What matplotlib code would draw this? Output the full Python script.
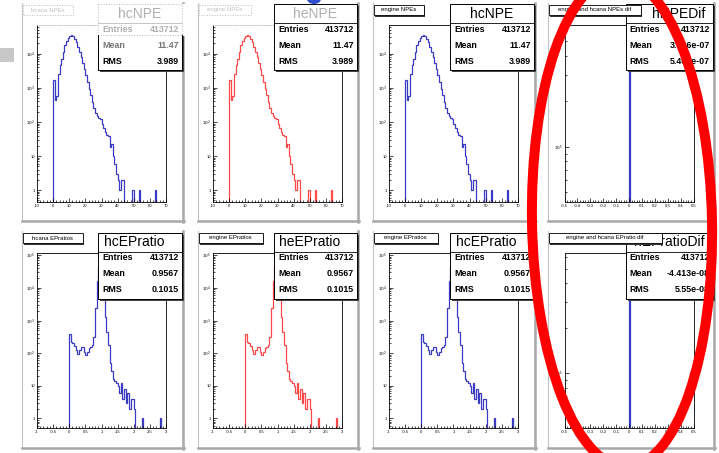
import numpy as np
import matplotlib.pyplot as plt
from matplotlib.patches import Rectangle, Ellipse
from matplotlib.ticker import MultipleLocator, LogLocator, FuncFormatter, NullFormatter

plt.rcParams['font.family'] = ['Liberation Sans', 'DejaVu Sans']

W, H = 719, 453

# NPE histograms, 1 unit bins from -10 to 70
npe_edges = np.arange(-10, 71, 1)
npe_counts = [0] * 10 + [1740, 430, 560, 2600, 4600, 7100, 11000, 17500, 23400, 29300,
                         33000, 34700, 33000, 27500, 21900, 15800, 11200, 7900, 5400, 3650,
                         2350, 1480, 950, 600, 385, 263, 187, 150, 134, 120,
                         89, 68, 51, 41, 40, 19, 23, 10, 6, 3,
                         2, 1, 2, 2] + [0] * 5 + [1] + [0] * 3 + [1] + [0] * 9 + [1] + [0] * 6

# E/P ratio histograms, 0.05 bins from -1 to 3
ep_edges = np.linspace(-1, 3, 81)
ep_counts = [0] * 20 + [380, 224, 200, 166, 126, 95, 126, 151, 158, 105,
                        89, 112, 141, 158, 178, 316, 2500, 16000, 45000, 58000,
                        32000, 5000, 1260, 450, 178, 50, 28, 16, 14, 12,
                        10, 6, 12, 4, 8, 3, 6, 2, 4, 4,
                        2] + [0] * 4 + [1] + [0] * 10 + [1] + [0] * 3

# difference histograms, everything lands in one bin
dif_edges = np.linspace(-0.5, 0.5, 101)
dif_counts = [0] * 50 + [413712] + [0] * 49

npe_stats = [('Entries', '413712'), ('Mean', '11.47'), ('RMS', '3.989')]
npedif_stats = [('Entries', '413712'), ('Mean', '3.966e-07'), ('RMS', '5.407e-07')]
ep_stats = [('Entries', '413712'), ('Mean', '0.9567'), ('RMS', '0.1015')]
epdif_stats = [('Entries', '413712'), ('Mean', '-4.413e-08'), ('RMS', '5.55e-08')]

BLUE = '#3a3ac4'
RED = '#ff4848'

# layout in pixels (from top-left)
ax_left = [37, 213, 389, 564.5]
ax_w = 129
row_ax = [(25, 201.7), (252.7, 427.7)]
canvas_x = [(22, 183), (198, 358), (373, 535), (548, 714)]
canvas_y = [(3, 221), (231, 448)]
stats_y0 = [4, 232.5]
title_y0 = [5, 233]


def frac(x0, y0, x1, y1):
    return [x0 / W, 1 - y1 / H, (x1 - x0) / W, (y1 - y0) / H]


def yfmt(v, pos):
    e = int(round(np.log10(v)))
    if e == 0:
        return '1'
    if e == 1:
        return '10'
    return '$10^{%d}$' % e


def xfmt(v, pos):
    v = round(v, 4)
    if abs(v) < 1e-9:
        return '0'
    return '%g' % v


fig = plt.figure(figsize=(W / 100, H / 100), dpi=100)
fig.patch.set_facecolor('white')

panels = [
    # row, col, edges, counts, color, ylim, xmajor, xminor, title, name, stats
    (0, 0, npe_edges, npe_counts, BLUE, (0.46, 69400), 10, 2, 'hcana NPEs', 'hcNPE', npe_stats),
    (0, 1, npe_edges, npe_counts, RED, (0.46, 69400), 10, 2, 'engine NPEs', 'heNPE', npe_stats),
    (0, 2, npe_edges, npe_counts, BLUE, (0.46, 69400), 10, 2, 'engine NPEs', 'hcNPE', npe_stats),
    (0, 3, dif_edges, dif_counts, BLUE, (43300, 640000), 0.1, 0.02, 'engine and hcana NPEs dif', 'hNPEDif', npedif_stats),
    (1, 0, ep_edges, ep_counts, BLUE, (0.52, 120000), 0.5, 0.1, 'hcana EPratios', 'hcEPratio', ep_stats),
    (1, 1, ep_edges, ep_counts, RED, (0.52, 120000), 0.5, 0.1, 'engine EPratios', 'heEPratio', ep_stats),
    (1, 2, ep_edges, ep_counts, BLUE, (0.52, 120000), 0.5, 0.1, 'engine EPratios', 'hcEPratio', ep_stats),
    (1, 3, dif_edges, dif_counts, BLUE, (43300, 640000), 0.1, 0.02, 'engine and hcana EPratio dif', 'hEPratioDif', epdif_stats),
]
title_w = {(0, 0): 50, (0, 1): 52, (0, 2): 50, (0, 3): 92,
           (1, 0): 60, (1, 1): 64, (1, 2): 64, (1, 3): 113}
# stats titles don't sit exactly centred on the slide
name_dx = {(0, 3): 9, (1, 0): -6, (1, 1): -6, (1, 2): -6}

for row, col, edges, counts, color, ylim, xmaj, xmin, title, name, stats in panels:
    x0 = ax_left[col]
    y0, y1 = row_ax[row]
    ax = fig.add_axes(frac(x0, y0, x0 + ax_w, y1), zorder=1)
    c = np.array(counts, dtype=float)
    c[c <= 0] = 1e-3
    ax.stairs(c, edges, color=color, lw=0.9, baseline=None)
    ax.set_yscale('log')
    ax.set_xlim(edges[0], edges[-1])
    ax.set_ylim(*ylim)
    ax.xaxis.set_major_locator(MultipleLocator(xmaj))
    ax.xaxis.set_minor_locator(MultipleLocator(xmin))
    ax.xaxis.set_major_formatter(FuncFormatter(xfmt))
    ax.yaxis.set_major_locator(LogLocator(base=10))
    ax.yaxis.set_minor_locator(LogLocator(base=10, subs=np.arange(2, 10)))
    ax.yaxis.set_major_formatter(FuncFormatter(yfmt))
    ax.yaxis.set_minor_formatter(NullFormatter())
    ax.tick_params(which='both', direction='in', labelsize=3, pad=1.5, width=0.5)
    ax.tick_params(which='major', length=3)
    ax.tick_params(which='minor', length=1.5)
    for s in ax.spines.values():
        s.set_linewidth(0.6)
    if row == 0 and col < 2:
        ax.spines['top'].set_color('#bbbbbb')
        ax.spines['top'].set_linestyle(':')

# overlay for canvas frames, boxes and the red marker
ov = fig.add_axes([0, 0, 1, 1], zorder=5)
ov.set_xlim(0, W)
ov.set_ylim(H, 0)
ov.axis('off')
ov.patch.set_visible(False)

for cx0, cx1 in canvas_x:
    for cy0, cy1 in canvas_y:
        ov.plot([cx0, cx0], [cy0, cy1], color='#c4c4c4', lw=0.8)
        ov.plot([cx1, cx1], [cy0, cy1 + 1], color='#a8a8a8', lw=1.8)
        ov.plot([cx0, cx1 + 1], [cy1, cy1], color='#a8a8a8', lw=1.8)

for row, col, edges, counts, color, ylim, xmaj, xmin, title, name, stats in panels:
    faded = row == 0 and col < 2

    # stats box
    sx0 = ax_left[col] + 61
    sx1 = canvas_x[col][1] - 1
    sy0 = stats_y0[row]
    sy1 = sy0 + 66
    ov.add_patch(Rectangle((sx0 + 2, sy0 + 2), sx1 - sx0, sy1 - sy0, facecolor='#444444', edgecolor='none', zorder=2))
    ov.add_patch(Rectangle((sx0, sy0), sx1 - sx0, sy1 - sy0, facecolor='white', edgecolor='black', lw=0.7, zorder=2))
    if row == 0 and col == 0:
        # top part of this box is faded on the slide
        ov.add_patch(Rectangle((sx0 - 0.5, sy0 - 0.5), sx1 - sx0 + 3.5, 32, facecolor='white', edgecolor='none', zorder=2))
        ov.add_patch(Rectangle((sx0, sy0), sx1 - sx0, 31, facecolor='none', edgecolor='#bbbbbb', lw=0.7, ls=':', zorder=2))
        ov.plot([sx0, sx0], [sy0 + 31, sy1], color='black', lw=0.7, zorder=2)
        ov.plot([sx1, sx1], [sy0 + 31, sy1], color='black', lw=0.7, zorder=2)
    ov.plot([sx0, sx1], [sy0 + 19, sy0 + 19], color='#bbbbbb' if (row == 0 and col == 0) else 'black',
            lw=0.6, zorder=2)
    ov.text((sx0 + sx1) / 2 + name_dx.get((row, col), 0), sy0 + 10, name, fontsize=10,
            color='#b0b0b0' if faded else 'black', ha='center', va='center', zorder=2)
    for i, (lab, val) in enumerate(stats):
        rc = 'black'
        if row == 0 and col == 0 and i == 0:
            rc = '#b0b0b0'
        elif row == 0 and col == 0 and i == 1:
            rc = '#777777'
        yy = sy0 + 25.5 + 16 * i
        ov.text(sx0 + 4, yy, lab, fontsize=6.4, fontweight='bold', color=rc, ha='left', va='center', zorder=2)
        ov.text(sx1 - 3, yy, val, fontsize=6.4, fontweight='bold', color=rc, ha='right', va='center', zorder=2)

    # title box, drawn over the stats box where they meet
    tx0 = canvas_x[col][0] + 0.5
    tx1 = tx0 + title_w[(row, col)]
    ty0 = title_y0[row]
    if faded:
        ov.add_patch(Rectangle((tx0, ty0), tx1 - tx0, 10, facecolor='white',
                               edgecolor='#bbbbbb', lw=0.7, ls=':', zorder=3))
        tcol = '#c0c0c0'
    else:
        ov.add_patch(Rectangle((tx0 + 1.5, ty0 + 1.5), tx1 - tx0, 10, facecolor='#333333', edgecolor='none', zorder=3))
        ov.add_patch(Rectangle((tx0, ty0), tx1 - tx0, 10, facecolor='white', edgecolor='black', lw=0.6, zorder=3))
        tcol = 'black'
    ov.text((tx0 + tx1) / 2, ty0 + 5, title, fontsize=4.3, color=tcol, ha='center', va='center', zorder=3)

# bits of the slide around the canvases
ov.add_patch(Rectangle((0, 48), 14, 14, facecolor='#c8c8c8', edgecolor='none'))
ov.add_patch(Ellipse((314, -1), 14, 10, facecolor='#3050d0', edgecolor='none'))
ov.add_patch(Ellipse((622, 222), 180, 490, angle=-1.1, fill=False, edgecolor='#ff0000', lw=7.2, zorder=4))

fig.savefig('out.png', dpi=100)
